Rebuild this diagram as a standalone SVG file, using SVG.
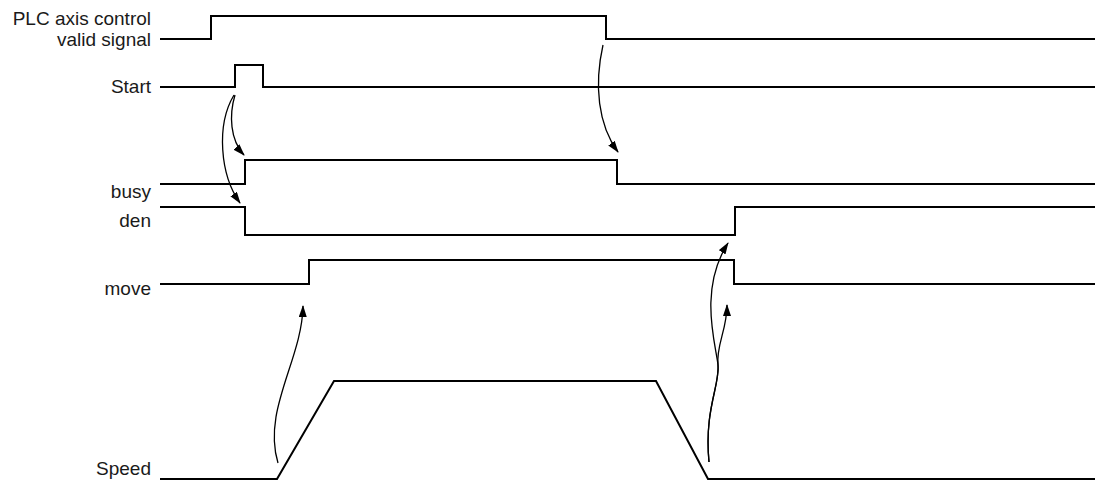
<svg xmlns="http://www.w3.org/2000/svg" width="1098" height="482" viewBox="0 0 1098 482">
<style>
.sig{fill:none;stroke:#000;stroke-width:2}
.arr{fill:none;stroke:#000;stroke-width:1.3}
.lbl{font-family:"Liberation Sans",Arial,sans-serif;font-size:19px;fill:#1a1a1a;text-anchor:end}
</style>
<defs>
<marker id="ah" markerWidth="12" markerHeight="8" refX="11" refY="4" orient="auto" markerUnits="userSpaceOnUse">
<path d="M0,0 L12,4 L0,8 Z" fill="#000"/>
</marker>
</defs>
<rect width="1098" height="482" fill="#fff"/>
<g id="plc">
<text class="lbl" x="151" y="25">PLC axis control</text>
<text class="lbl" x="151" y="46">valid signal</text>
<path class="sig" d="M160,39 H211 V16 H606 V39 H1095"/>
</g>
<g id="start">
<text class="lbl" x="151" y="93">Start</text>
<path class="sig" d="M160,87 H235 V65 H263 V87 H1095"/>
</g>
<g id="busy">
<text class="lbl" x="151" y="198">busy</text>
<path class="sig" d="M160,184 H245 V160 H617 V184 H1095"/>
</g>
<g id="den">
<text class="lbl" x="151" y="227">den</text>
<path class="sig" d="M160,207 H245 V235 H735 V207 H1095"/>
</g>
<g id="move">
<text class="lbl" x="151" y="295">move</text>
<path class="sig" d="M160,284 H309 V260 H734 V284 H1095"/>
</g>
<g id="speed">
<text class="lbl" x="151" y="475">Speed</text>
<path class="sig" d="M160,479 H277 L334,381 H656 L708,479 H1095"/>
</g>
<g id="connectors">
<path class="arr" marker-end="url(#ah)" d="M235,95 C229,115 230,140 244,155"/>
<path class="arr" marker-end="url(#ah)" d="M234,95 C216,125 220,175 240,203"/>
<path class="arr" marker-end="url(#ah)" d="M603,45 C594,85 598,125 618,152"/>
<path class="arr" marker-end="url(#ah)" d="M278,463 C262,410 302,360 303,306"/>
<path class="arr" marker-end="url(#ah)" d="M709,462 C704,410 720,385 718,365 S698,290 728,243"/>
<path class="arr" marker-end="url(#ah)" d="M709,462 C704,410 720,385 718,365 S727,330 727,305"/>
</g>
</svg>
